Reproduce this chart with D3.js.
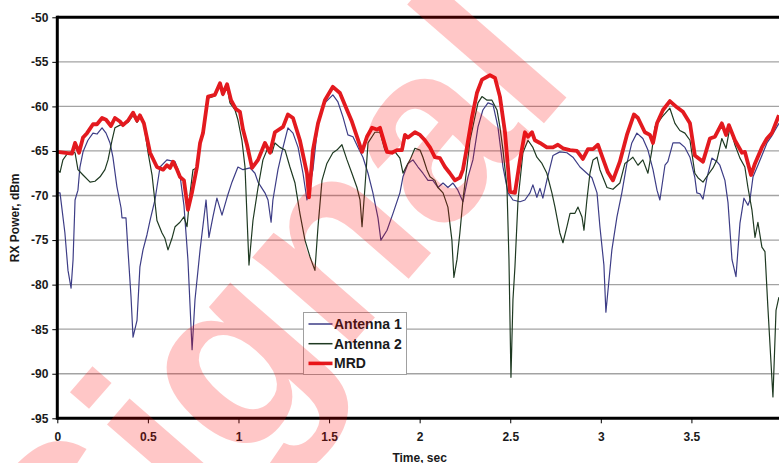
<!DOCTYPE html>
<html>
<head>
<meta charset="utf-8">
<script src="https://cdn.jsdelivr.net/npm/d3@7"></script>
<style>
  html, body { margin: 0; padding: 0; background: #fff; }
  svg { display: block; font-family: "Liberation Sans", Arial, sans-serif; }
</style>
</head>
<body>
<svg id="chart" width="779" height="463"></svg>
<script>
// ---------- data ----------
const seriesNames = ["Antenna 1", "Antenna 2", "MRD"];
const xTickValues = [0, 0.5, 1, 1.5, 2, 2.5, 3, 3.5];
const yTickValues = [-95, -90, -85, -80, -75, -70, -65, -60, -55, -50];

const antenna1Time = [0,0.015,0.042,0.059,0.076,0.087,0.098,0.114,0.125,0.142,0.169,0.197,0.219,0.247,0.269,0.291,0.307,0.329,0.352,0.357,0.379,0.390,0.407,0.418,0.440,0.456,0.473,0.495,0.512,0.539,0.567,0.605,0.650,0.677,0.699,0.721,0.744,0.760,0.788,0.821,0.837,0.859,0.881,0.909,0.937,0.964,0.997,1.025,1.064,1.091,1.108,1.146,1.163,1.180,1.190,1.218,1.246,1.273,1.301,1.329,1.356,1.378,1.411,1.439,1.477,1.521,1.549,1.577,1.604,1.632,1.660,1.687,1.715,1.742,1.770,1.786,1.820,1.853,1.891,1.908,1.936,1.963,1.991,2.018,2.046,2.073,2.101,2.129,2.156,2.184,2.211,2.239,2.267,2.294,2.322,2.349,2.377,2.405,2.432,2.460,2.488,2.515,2.554,2.581,2.609,2.625,2.647,2.664,2.680,2.702,2.736,2.774,2.813,2.846,2.885,2.923,2.951,2.979,2.995,3.017,3.028,3.061,3.089,3.116,3.144,3.171,3.199,3.232,3.260,3.288,3.310,3.326,3.354,3.370,3.398,3.436,3.464,3.492,3.519,3.530,3.547,3.564,3.586,3.613,3.641,3.657,3.685,3.702,3.724,3.746,3.768,3.790,3.812,3.823,3.840,3.867,3.889,3.917,3.944,3.983];
const antenna1Power = [-69.7,-69.7,-74.2,-78.4,-80.4,-77.2,-70.5,-69.4,-66.8,-65.1,-63.8,-63.0,-63.1,-62.4,-63.0,-64.1,-65.7,-69.0,-71.4,-72.5,-72.5,-76.1,-81.4,-85.9,-84.0,-78.0,-76.1,-74.4,-72.8,-70.5,-66.8,-66.0,-66.2,-67.7,-71.1,-77.2,-87.3,-81.7,-76.1,-70.5,-74.7,-72.4,-70.3,-72.2,-70.2,-68.5,-66.8,-67.1,-66.9,-67.5,-68.5,-69.7,-70.5,-73.0,-70.5,-67.1,-64.6,-62.4,-63.0,-64.6,-67.5,-70.5,-67.1,-61.9,-59.6,-58.7,-59.5,-61.2,-63.2,-63.4,-64.6,-65.7,-67.5,-69.7,-72.5,-75.0,-73.9,-72.0,-69.7,-67.9,-66.4,-66.0,-66.8,-67.5,-68.3,-68.3,-69.1,-68.6,-69.1,-68.6,-69.4,-70.7,-67.9,-66.0,-62.3,-60.4,-59.6,-59.8,-62.3,-66.8,-69.7,-70.5,-70.7,-70.5,-69.7,-68.8,-70.2,-69.2,-70.3,-68.3,-65.5,-65.1,-65.2,-65.7,-66.8,-67.5,-68.0,-69.7,-73.5,-77.8,-83.1,-76.1,-72.4,-69.7,-66.4,-64.1,-63.0,-63.6,-64.9,-67.1,-69.4,-70.5,-66.6,-66.2,-64.1,-64.1,-64.6,-65.7,-68.0,-69.7,-69.8,-70.4,-68.0,-65.8,-66.2,-66.6,-68.3,-70.8,-77.2,-79.1,-73.1,-70.3,-71.1,-70.5,-67.9,-66.6,-65.5,-64.1,-63.3,-61.9];

const antenna2Time = [0,0.015,0.031,0.059,0.081,0.098,0.114,0.142,0.181,0.208,0.236,0.263,0.280,0.302,0.318,0.346,0.373,0.390,0.418,0.440,0.456,0.478,0.501,0.523,0.550,0.578,0.594,0.611,0.633,0.650,0.677,0.699,0.716,0.733,0.749,0.771,0.788,0.804,0.832,0.870,0.898,0.914,0.937,0.953,0.981,0.997,1.019,1.036,1.058,1.080,1.108,1.135,1.163,1.185,1.201,1.229,1.257,1.284,1.312,1.339,1.367,1.395,1.422,1.439,1.461,1.488,1.521,1.543,1.571,1.599,1.626,1.654,1.671,1.682,1.698,1.715,1.737,1.753,1.781,1.808,1.836,1.864,1.891,1.908,1.930,1.947,1.974,2.002,2.018,2.040,2.057,2.084,2.101,2.129,2.156,2.178,2.189,2.206,2.222,2.239,2.261,2.278,2.305,2.322,2.344,2.372,2.399,2.427,2.443,2.460,2.482,2.493,2.504,2.515,2.526,2.543,2.570,2.598,2.625,2.647,2.675,2.702,2.730,2.747,2.774,2.791,2.813,2.830,2.857,2.874,2.896,2.907,2.923,2.940,2.957,2.979,2.995,3.034,3.067,3.105,3.133,3.160,3.177,3.205,3.232,3.260,3.282,3.299,3.337,3.381,3.409,3.436,3.464,3.492,3.519,3.536,3.564,3.591,3.619,3.641,3.668,3.691,3.713,3.740,3.768,3.795,3.812,3.834,3.851,3.867,3.889,3.906,3.922,3.950,3.967,3.983];
const antenna2Power = [-67.1,-67.4,-66.0,-65.2,-65.1,-65.2,-67.1,-67.7,-68.5,-68.4,-67.9,-67.1,-66.0,-63.8,-62.4,-62.1,-61.9,-61.8,-61.0,-61.8,-61.2,-62.0,-65.2,-67.7,-72.8,-74.2,-74.8,-76.1,-74.8,-73.5,-73.0,-72.4,-73.5,-69.7,-67.1,-66.9,-64.3,-63.2,-59.1,-58.8,-57.6,-58.8,-57.8,-59.6,-60.4,-61.5,-63.8,-66.8,-77.8,-72.8,-69.1,-66.0,-64.6,-65.2,-64.1,-64.6,-64.9,-66.8,-68.6,-72.0,-75.0,-76.9,-78.4,-73.5,-68.3,-66.4,-65.2,-64.9,-64.3,-66.0,-67.5,-69.1,-70.5,-73.5,-69.1,-64.1,-63.4,-62.9,-62.9,-64.9,-65.2,-65.1,-65.8,-67.5,-66.6,-66.0,-64.7,-64.9,-65.7,-67.1,-67.9,-68.3,-69.1,-69.7,-71.3,-75.0,-79.2,-77.2,-74.2,-70.5,-66.8,-63.8,-61.2,-59.6,-58.9,-59.3,-59.3,-60.4,-62.3,-64.9,-69.1,-77.2,-90.4,-81.7,-78.0,-70.5,-65.2,-63.8,-64.6,-65.7,-66.4,-67.5,-69.7,-71.3,-74.2,-75.3,-73.5,-72.0,-72.0,-71.3,-72.4,-73.9,-70.5,-67.5,-66.0,-65.7,-67.1,-69.1,-69.3,-68.6,-66.4,-66.0,-65.7,-66.6,-66.0,-67.5,-64.9,-62.3,-61.2,-60.2,-61.9,-62.7,-63.0,-63.8,-67.5,-68.0,-68.5,-67.7,-66.9,-66.0,-63.6,-64.7,-62.3,-64.3,-65.8,-66.8,-69.1,-71.6,-74.7,-73.0,-75.8,-76.3,-82.5,-92.6,-82.9,-81.4];

const mrdTime = [0,0.081,0.098,0.120,0.142,0.164,0.197,0.219,0.247,0.269,0.296,0.318,0.346,0.362,0.390,0.418,0.440,0.456,0.478,0.512,0.550,0.584,0.605,0.622,0.639,0.661,0.677,0.699,0.721,0.744,0.771,0.788,0.804,0.832,0.870,0.898,0.914,0.937,0.959,0.986,1.008,1.025,1.047,1.075,1.108,1.146,1.174,1.201,1.246,1.273,1.301,1.339,1.378,1.389,1.411,1.439,1.477,1.521,1.560,1.599,1.626,1.654,1.682,1.709,1.737,1.764,1.781,1.820,1.847,1.875,1.902,1.919,1.936,1.974,2.002,2.029,2.057,2.084,2.112,2.140,2.167,2.195,2.222,2.239,2.261,2.289,2.316,2.344,2.388,2.416,2.443,2.471,2.499,2.526,2.554,2.581,2.598,2.620,2.636,2.664,2.702,2.736,2.763,2.791,2.830,2.868,2.901,2.929,2.957,2.984,3.012,3.039,3.067,3.105,3.144,3.183,3.205,3.243,3.271,3.288,3.310,3.343,3.381,3.420,3.453,3.492,3.519,3.564,3.602,3.630,3.668,3.691,3.707,3.740,3.779,3.795,3.829,3.851,3.889,3.917,3.944,3.983];
const mrdPower = [-65.1,-65.3,-64.1,-65.2,-63.5,-63.0,-62.0,-62.0,-61.3,-61.5,-62.2,-61.3,-61.7,-62.1,-61.6,-60.7,-61.6,-61.0,-61.9,-65.2,-66.8,-67.1,-66.6,-66.9,-66.2,-67.1,-67.9,-68.3,-71.6,-69.6,-66.8,-64.1,-63.0,-58.9,-58.7,-57.4,-58.6,-57.5,-59.3,-60.3,-60.6,-62.6,-64.3,-66.9,-66.0,-64.1,-65.2,-62.9,-62.3,-60.9,-61.3,-63.8,-67.5,-70.2,-64.9,-61.9,-59.3,-57.8,-58.5,-60.4,-61.7,-63.4,-65.1,-63.4,-62.4,-62.6,-62.4,-65.1,-65.2,-64.9,-64.9,-63.2,-63.5,-62.9,-63.2,-63.8,-64.6,-65.7,-65.8,-66.8,-67.5,-68.3,-68.0,-67.1,-64.6,-61.2,-58.5,-57.0,-56.5,-56.8,-58.9,-62.9,-69.6,-69.7,-66.0,-62.9,-63.4,-62.9,-63.8,-64.1,-64.6,-64.6,-64.3,-64.7,-64.9,-65.0,-65.9,-64.8,-64.8,-64.3,-65.9,-67.4,-68.3,-66.2,-63.2,-60.9,-61.3,-62.9,-63.2,-64.1,-61.9,-60.4,-59.4,-60.1,-60.6,-61.9,-65.5,-66.2,-63.6,-63.4,-61.9,-63.2,-62.1,-63.8,-65.2,-65.1,-67.7,-66.4,-64.6,-63.6,-63.0,-61.0];

const seriesColors = ["#3d3d86", "#1f3a22", "#e31a1f"];
const seriesWidths = [1.2, 1.2, 3.8];

// ---------- layout ----------
const svg = d3.select("#chart");
const plotLeft = 57.3, plotRight = 782, plotTop = 17.3, plotBottom = 418.3;
const x = d3.scaleLinear().domain([0, 4]).range([plotLeft, plotRight]);
const y = d3.scaleLinear().domain([-95, -50]).range([plotBottom, plotTop]);

svg.append("defs").append("clipPath").attr("id", "plotClip")
  .append("rect").attr("x", plotLeft).attr("y", plotTop)
  .attr("width", plotRight - plotLeft).attr("height", plotBottom - plotTop);

// gridlines
svg.append("g").selectAll("line")
  .data(yTickValues.filter(v => v > -95 && v < -50))
  .join("line")
  .attr("x1", plotLeft).attr("x2", plotRight)
  .attr("y1", d => y(d)).attr("y2", d => y(d))
  .attr("stroke", "#a3a3a3").attr("stroke-width", 1.3);

// series
const series = [
  {name: seriesNames[0], t: antenna1Time, v: antenna1Power},
  {name: seriesNames[1], t: antenna2Time, v: antenna2Power},
  {name: seriesNames[2], t: mrdTime, v: mrdPower}
];
const line = d3.line().x(d => x(d[0])).y(d => y(d[1]));
const plotG = svg.append("g").attr("clip-path", "url(#plotClip)");
series.forEach((s, i) => {
  plotG.append("path")
    .datum(s.t.map((t, k) => [t, s.v[k]]))
    .attr("d", line)
    .attr("fill", "none")
    .attr("stroke", seriesColors[i])
    .attr("stroke-width", seriesWidths[i])
    .attr("stroke-linejoin", "round");
});

// axes
const yAxis = d3.axisLeft(y).tickValues(yTickValues).tickSize(5).tickPadding(4).tickFormat(d => String(d));
const gy = svg.append("g").attr("transform", `translate(${plotLeft},0)`).call(yAxis);
gy.select(".domain").remove();
gy.selectAll(".tick line").attr("stroke", "#000").attr("stroke-width", 1);
gy.selectAll("text").attr("font-size", 12).attr("font-weight", "bold").attr("fill", "#1a1a1a")
  .attr("font-family", "Liberation Sans, Arial, sans-serif");

const xAxis = d3.axisBottom(x).tickValues(xTickValues).tickSize(5).tickPadding(9).tickFormat(d => String(d));
const gx = svg.append("g").attr("transform", `translate(0,${plotBottom})`).call(xAxis);
gx.select(".domain").remove();
gx.selectAll(".tick line").attr("stroke", "#000").attr("stroke-width", 1);
gx.selectAll("text").attr("font-size", 12).attr("font-weight", "bold").attr("fill", "#1a1a1a")
  .attr("font-family", "Liberation Sans, Arial, sans-serif");

// heavy frame lines
svg.append("line").attr("x1", plotLeft).attr("x2", plotRight).attr("y1", plotTop).attr("y2", plotTop)
  .attr("stroke", "#000").attr("stroke-width", 3);
svg.append("line").attr("x1", plotLeft).attr("x2", plotRight).attr("y1", plotBottom).attr("y2", plotBottom)
  .attr("stroke", "#000").attr("stroke-width", 3);
svg.append("line").attr("x1", plotLeft).attr("x2", plotLeft).attr("y1", plotTop - 1.5).attr("y2", plotBottom + 1.5)
  .attr("stroke", "#000").attr("stroke-width", 3);

// axis titles
svg.append("text").attr("x", (plotLeft + plotRight) / 2).attr("y", 461.5).attr("text-anchor", "middle")
  .attr("font-size", 12).attr("font-weight", "bold").attr("fill", "#1a1a1a").text("Time, sec");
svg.append("text").attr("transform", `translate(19,${(plotTop + plotBottom) / 2}) rotate(-90)`)
  .attr("text-anchor", "middle").attr("font-size", 12).attr("font-weight", "bold").attr("fill", "#1a1a1a")
  .text("RX Power, dBm");

// legend
const lg = svg.append("g").attr("transform", "translate(303.5,312.5)");
lg.append("rect").attr("width", 103).attr("height", 62).attr("fill", "#fff")
  .attr("stroke", "#a0a0a0").attr("stroke-width", 1);
seriesNames.forEach((n, i) => {
  const yy = 11.5 + i * 19.7;
  lg.append("line").attr("x1", 5).attr("x2", 29).attr("y1", yy).attr("y2", yy)
    .attr("stroke", seriesColors[i]).attr("stroke-width", i === 2 ? 3.6 : 1.5);
  lg.append("text").attr("x", 30.5).attr("y", yy + 5).attr("font-size", 14).attr("font-weight", "bold")
    .attr("fill", "#1a1a1a").text(n);
});

// watermark
svg.append("text").attr("transform", "translate(578,84) rotate(-49)")
  .attr("text-anchor", "end").attr("font-size", 250).attr("font-weight", "bold")
  .attr("fill", "#ff0000").attr("fill-opacity", 0.22).text("Signal");
</script>
</body>
</html>
